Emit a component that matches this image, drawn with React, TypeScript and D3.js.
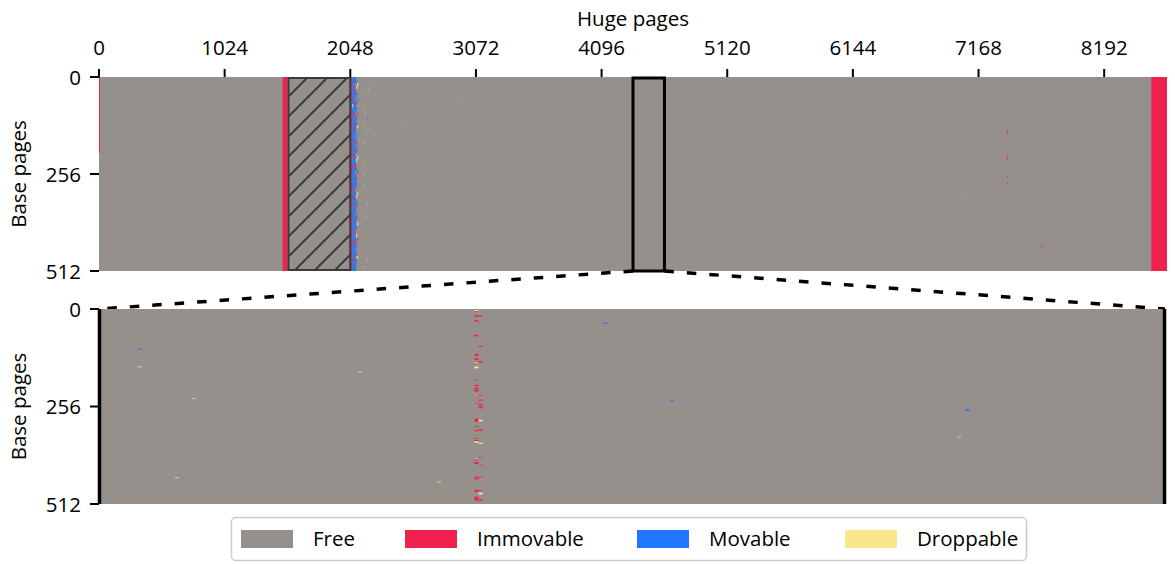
import React from "react";
import * as d3 from "d3";

// ---------- data ----------
const HUGE_TOTAL = 8704;
const BASE_TOTAL = 512;
const xTickValues = [0, 1024, 2048, 3072, 4096, 5120, 6144, 7168, 8192];
const yTickValues = [0, 256, 512];
const categories = ["Free", "Immovable", "Movable", "Droppable"];
const categoryCodes = ["F", "I", "M", "D"];
const categoryColors = ["#95908b", "#f0214f", "#2176ff", "#fbe68a"];

// [hugeStart, hugeEnd, baseStart, baseEnd]
const immovableBlocks = [
  [0, 8, 0, 200],
  [1496, 1536, 0, 512],
  [8576, 8704, 0, 512],
];
const reservedRange = [1536, 2048];
const zoomRange = [4352, 4608];

// dense band right after the reserved range, one string per column of huge pages
const bandStart = 2048;
const bandColumnWidth = 8;
const bandColumns = [
  "IIMIIIIIMIIIIIIIIMIIIIIIIIIIMIIIIIIIIMIIIIIIIIIIIIMIIIIIIIMIIIII",
  "IMIIMIIIMMIIMIIIIMIMIIIIMIIMIIIIMIMIIIMIIIIMMIIIIMIIIMIIIMIIMIII",
  "MMIMMMIMMDMMIMMMMIMMMIMMMMIMMIMMMMMIMMMIMMMMIMMMMMIMMMMIMMMMIMMM",
  "MMMMMMMMIMMMMMMMMMMMMMMMMIMMMMMMMMMMMMMIMMMMMMMMMMMMMMMMMMMMIMMM",
  "MIMMIMMMMMMMIMMIMMMMMMMMMIMMMIMMMMMMMIMMMMIMMMMMMMMIMMIMMMMMMMMM",
  "MMFMIMMFMMMMFMMIMMMFMMMIMFMMMIMFMMMMMFMMMMIMMFMMMMMFMMIMMMMFMMMM",
  "FMFDFMFFIFMFFMFMFFFMFIFFMFFDFFMFFIFMFFFDFMFFFMIFFMFFDFFMFFIFMFFF",
  "FFDFFFFMFFFFIFFFDFFFFFFMFFDFFFFIFFFFFFDFFFMFFFFFDFFFFIFFFFFDFFFF",
];

// scattered pages in the full view: [hugeStart, hugeWidth, baseStart, baseEnd, code]
const scatterTop = [
  [2209, 4, 11, 15, "D"], [2193, 4, 33, 37, "D"], [2177, 4, 39, 43, "D"],
  [2152, 4, 78, 82, "D"], [2169, 4, 94, 98, "D"], [2185, 5, 105, 109, "I"],
  [2160, 4, 126, 130, "D"], [2201, 4, 134, 138, "D"], [2169, 4, 147, 151, "D"],
  [2152, 4, 173, 177, "D"], [2193, 5, 197, 201, "I"], [2160, 4, 223, 227, "D"],
  [2160, 4, 258, 262, "D"], [2152, 4, 284, 288, "D"], [2169, 5, 310, 314, "I"],
  [2185, 4, 329, 333, "D"], [2144, 4, 355, 359, "D"], [2177, 4, 368, 372, "D"],
  [2193, 5, 397, 401, "I"], [2152, 5, 424, 428, "I"], [2266, 6, 454, 458, "M"],
  [2185, 4, 482, 486, "D"], [2152, 4, 500, 504, "D"],
  [2454, 3, 131, 134, "D"], [2967, 4, 60, 63, "D"], [3212, 3, 205, 208, "I"],
  [3848, 3, 126, 129, "M"], [4777, 4, 164, 168, "M"], [5201, 3, 313, 316, "M"],
  [5315, 3, 68, 71, "M"], [7052, 4, 321, 324, "D"], [7077, 4, 33, 37, "M"],
  [7403, 6, 40, 44, "I"], [7435, 4, 40, 42, "I"], [7403, 4, 70, 73, "I"],
  [7443, 4, 99, 102, "I"], [7403, 4, 112, 115, "I"], [7403, 6, 140, 153, "I"],
  [7403, 6, 206, 219, "I"], [7452, 4, 244, 247, "I"], [7398, 6, 259, 264, "I"],
  [7403, 6, 276, 282, "I"], [7419, 3, 321, 324, "I"], [7452, 3, 360, 363, "I"],
  [7419, 4, 413, 416, "I"], [7680, 6, 442, 450, "I"],
];

// zoomed region: two busy huge pages and a few scattered base pages
const zoomColumnPages = [4442, 4443];
const zoomColumnA = [
  [3, 6, "D"], [6, 8, "I"], [16, 20, "I"], [29, 33, "I"], [68, 72, "I"],
  [118, 123, "I"], [129, 134, "I"], [137, 139, "I"], [139, 141, "D"],
  [151, 156, "D"], [186, 188, "I"], [199, 203, "I"], [207, 211, "I"],
  [212, 217, "I"], [228, 230, "D"], [230, 232, "I"], [246, 248, "I"],
  [288, 296, "I"], [307, 309, "I"], [318, 321, "I"], [339, 341, "I"],
  [344, 347, "I"], [347, 351, "D"], [393, 395, "D"], [395, 398, "I"],
  [402, 407, "I"], [440, 443, "I"], [444, 447, "I"], [475, 480, "I"],
  [493, 503, "I"],
];
const zoomColumnB = [
  [18, 21, "I"], [97, 100, "I"], [137, 141, "I"], [226, 228, "I"],
  [238, 241, "I"], [250, 254, "I"], [256, 261, "I"], [291, 295, "D"],
  [315, 319, "I"], [351, 354, "D"], [389, 391, "I"], [409, 411, "I"],
  [440, 442, "I"], [475, 477, "I"], [482, 487, "D"], [500, 504, "I"],
];
// [hugePage, baseStart, baseEnd, code]
const zoomScatter = [
  [4361, 104, 107, "M"], [4361, 151, 153, "D"], [4374, 234, 236, "D"],
  [4370, 442, 444, "D"], [4414, 164, 166, "D"], [4473, 36, 39, "M"],
  [4489, 240, 243, "M"], [4560, 263, 268, "M"], [4558, 335, 337, "D"],
  [4433, 453, 455, "D"],
];

// ---------- build cells ----------
type Cell = { h0: number; h1: number; b0: number; b1: number; code: string };
const cells: Cell[] = [];
immovableBlocks.forEach(([h0, h1, b0, b1]) => cells.push({ h0, h1, b0, b1, code: "I" }));
bandColumns.forEach((col, ci) => {
  const step = BASE_TOTAL / col.length;
  col.split("").forEach((c, ri) => {
    if (c === "F") return;
    cells.push({
      h0: bandStart + ci * bandColumnWidth,
      h1: bandStart + (ci + 1) * bandColumnWidth,
      b0: ri * step,
      b1: (ri + 1) * step,
      code: c,
    });
  });
});
scatterTop.forEach(([h, w, b0, b1, code]) =>
  cells.push({ h0: h as number, h1: (h as number) + (w as number), b0: b0 as number, b1: b1 as number, code: code as string })
);
[zoomColumnA, zoomColumnB].forEach((col, i) =>
  col.forEach(([b0, b1, code]) =>
    cells.push({ h0: zoomColumnPages[i], h1: zoomColumnPages[i] + 1, b0: b0 as number, b1: b1 as number, code: code as string })
  )
);
zoomScatter.forEach(([h, b0, b1, code]) =>
  cells.push({ h0: h as number, h1: (h as number) + 1, b0: b0 as number, b1: b1 as number, code: code as string })
);

const color = d3.scaleOrdinal<string, string>().domain(categoryCodes).range(categoryColors);

const FONT = "'Open Sans', 'DejaVu Sans', sans-serif";

export default function App() {
  const W = 1175;
  const H = 564;
  const top = { x0: 99, x1: 1167, y0: 77, y1: 271 };
  const bot = { x0: 100, x1: 1165, y0: 309, y1: 504 };

  const xTop = d3.scaleLinear().domain([0, HUGE_TOTAL]).range([top.x0, top.x1]);
  const yTop = d3.scaleLinear().domain([0, BASE_TOTAL]).range([top.y0, top.y1]);
  const xBot = d3.scaleLinear().domain(zoomRange).range([bot.x0, bot.x1]);
  const yBot = d3.scaleLinear().domain([0, BASE_TOTAL]).range([bot.y0, bot.y1]);

  const zoomCells = cells.filter((c) => c.h1 > zoomRange[0] && c.h0 < zoomRange[1]);

  const legendX = [241, 405, 637, 845];

  return (
    <svg width={W} height={H} style={{ display: "block", position: "absolute", left: 0, top: 0 }}>
      <defs>
        <pattern id="hatch" patternUnits="userSpaceOnUse" width={20} height={20} x={0} y={top.y0 + 8}>
          <path d="M-5,5 L5,-5 M0,20 L20,0 M15,25 L25,15" stroke="#3a3a3a" strokeWidth={2} />
        </pattern>
        <clipPath id="botclip">
          <rect x={bot.x0} y={bot.y0} width={bot.x1 - bot.x0} height={bot.y1 - bot.y0} />
        </clipPath>
      </defs>
      <rect x={0} y={0} width={W} height={H} fill="#fff" />

      {/* top panel */}
      <rect x={top.x0} y={top.y0} width={top.x1 - top.x0} height={top.y1 - top.y0} fill={color("F")} />
      {cells.map((c, i) => (
        <rect
          key={"t" + i}
          x={xTop(c.h0)}
          y={yTop(c.b0)}
          width={xTop(c.h1) - xTop(c.h0)}
          height={yTop(c.b1) - yTop(c.b0)}
          fill={color(c.code)}
        />
      ))}
      <rect
        x={xTop(reservedRange[0]) + 1}
        y={top.y0 + 1}
        width={xTop(reservedRange[1]) - xTop(reservedRange[0]) - 1}
        height={top.y1 - top.y0 - 2}
        fill="url(#hatch)"
        stroke="#3a3a3a"
        strokeWidth={2}
      />
      {/* zoom box */}
      <rect
        x={xTop(zoomRange[0])}
        y={top.y0 + 1}
        width={xTop(zoomRange[1]) - xTop(zoomRange[0])}
        height={top.y1 - top.y0 - 1}
        fill="none"
        stroke="#000"
        strokeWidth={3}
      />

      {/* connectors */}
      <line x1={xTop(zoomRange[0])} y1={top.y1} x2={bot.x0} y2={bot.y0} stroke="#000" strokeWidth={3.5} strokeDasharray="9.5,13" />
      <line x1={xTop(zoomRange[1])} y1={top.y1} x2={bot.x1} y2={bot.y0} stroke="#000" strokeWidth={3.5} strokeDasharray="9.5,13" />

      {/* bottom panel */}
      <rect x={bot.x0} y={bot.y0} width={bot.x1 - bot.x0} height={bot.y1 - bot.y0} fill={color("F")} />
      <g clipPath="url(#botclip)">
        {zoomCells.map((c, i) => (
          <rect
            key={"b" + i}
            x={xBot(c.h0)}
            y={yBot(c.b0)}
            width={xBot(c.h1) - xBot(c.h0)}
            height={yBot(c.b1) - yBot(c.b0)}
            fill={color(c.code)}
          />
        ))}
      </g>
      <line x1={bot.x0 - 0.5} y1={bot.y0} x2={bot.x0 - 0.5} y2={bot.y1} stroke="#000" strokeWidth={3.5} />
      <line x1={bot.x1 - 0.5} y1={bot.y0} x2={bot.x1 - 0.5} y2={bot.y1} stroke="#000" strokeWidth={3.5} />

      {/* top x axis */}
      {xTickValues.map((t) => (
        <g key={"xt" + t}>
          <line x1={xTop(t)} x2={xTop(t)} y1={top.y0} y2={top.y0 - 8} stroke="#000" strokeWidth={2} />
          <text x={xTop(t)} y={55} textAnchor="middle" fontFamily={FONT} fontSize={20.5} fill="#000">
            {t}
          </text>
        </g>
      ))}
      <text x={(top.x0 + top.x1) / 2} y={26} textAnchor="middle" fontFamily={FONT} fontSize={20.5} fill="#000">
        Huge pages
      </text>

      {/* y axes */}
      {[
        { y: yTop, x0: top.x0, cy: (top.y0 + top.y1) / 2 },
        { y: yBot, x0: bot.x0 - 1, cy: (bot.y0 + bot.y1) / 2 },
      ].map((ax, ai) => (
        <g key={"ya" + ai}>
          {yTickValues.map((t) => (
            <g key={"yt" + t}>
              <line x1={90} x2={ax.x0} y1={ax.y(t)} y2={ax.y(t)} stroke="#000" strokeWidth={2} />
              <text x={81} y={ax.y(t) + 7.5} textAnchor="end" fontFamily={FONT} fontSize={20.5} fill="#000">
                {t}
              </text>
            </g>
          ))}
          <text
            transform={`translate(26,${ax.cy}) rotate(-90)`}
            textAnchor="middle"
            fontFamily={FONT}
            fontSize={20.5}
            fill="#000"
          >
            Base pages
          </text>
        </g>
      ))}

      {/* legend */}
      <rect x={231.5} y={517.5} width={795} height={43} rx={4} fill="#fff" stroke="#cccccc" strokeWidth={1.5} />
      {categories.map((name, i) => (
        <g key={name}>
          <rect x={legendX[i]} y={530} width={52} height={18} fill={categoryColors[i]} />
          <text x={legendX[i] + 72} y={546} fontFamily={FONT} fontSize={20.5} fill="#000">
            {name}
          </text>
        </g>
      ))}
    </svg>
  );
}
